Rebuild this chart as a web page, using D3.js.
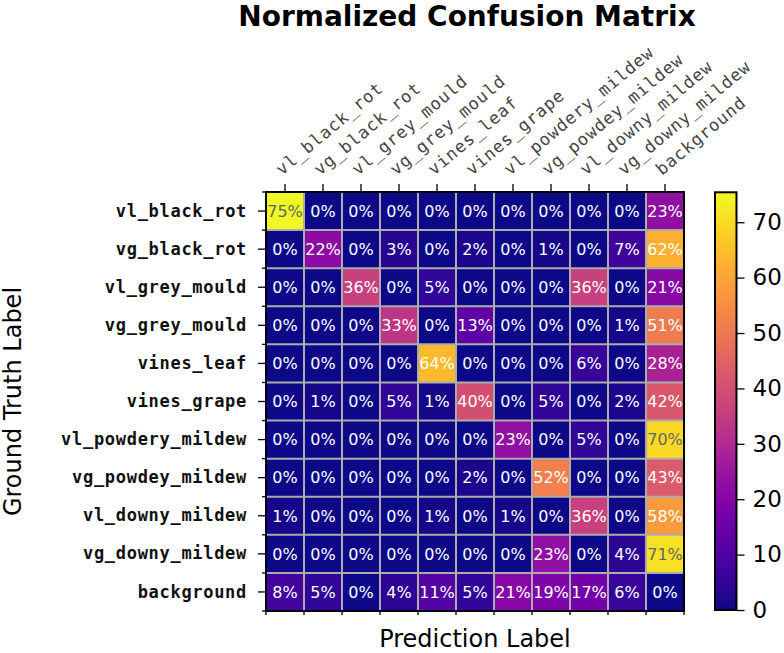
<!DOCTYPE html>
<html>
<head>
<meta charset="utf-8">
<script src="https://cdn.jsdelivr.net/npm/d3@7"></script>
<style>
  body { margin: 0; background: #fff; }
  svg { display: block; }
</style>
</head>
<body>
<svg id="chart"></svg>
<script>
// data
const classes = ["vl_black_rot", "vg_black_rot", "vl_grey_mould", "vg_grey_mould", "vines_leaf",
    "vines_grape", "vl_powdery_mildew", "vg_powdey_mildew", "vl_downy_mildew", "vg_downy_mildew", "background"];

// rows = ground truth, columns = prediction (percent)
const row_vl_black_rot = [75, 0, 0, 0, 0, 0, 0, 0, 0, 0, 23];
const row_vg_black_rot = [0, 22, 0, 3, 0, 2, 0, 1, 0, 7, 62];
const row_vl_grey_mould = [0, 0, 36, 0, 5, 0, 0, 0, 36, 0, 21];
const row_vg_grey_mould = [0, 0, 0, 33, 0, 13, 0, 0, 0, 1, 51];
const row_vines_leaf = [0, 0, 0, 0, 64, 0, 0, 0, 6, 0, 28];
const row_vines_grape = [0, 1, 0, 5, 1, 40, 0, 5, 0, 2, 42];
const row_vl_powdery_mildew = [0, 0, 0, 0, 0, 0, 23, 0, 5, 0, 70];
const row_vg_powdey_mildew = [0, 0, 0, 0, 0, 2, 0, 52, 0, 0, 43];
const row_vl_downy_mildew = [1, 0, 0, 0, 1, 0, 1, 0, 36, 0, 58];
const row_vg_downy_mildew = [0, 0, 0, 0, 0, 0, 0, 23, 0, 4, 71];
const row_background = [8, 5, 0, 4, 11, 5, 21, 19, 17, 6, 0];

const matrix = [row_vl_black_rot, row_vg_black_rot, row_vl_grey_mould, row_vg_grey_mould,
    row_vines_leaf, row_vines_grape, row_vl_powdery_mildew, row_vg_powdey_mildew,
    row_vl_downy_mildew, row_vg_downy_mildew, row_background];

const colorbarTicks = [0, 10, 20, 30, 40, 50, 60, 70];
const colorMax = 75.4;

//constants
const width = 784,
    height = 653,
    plot = { left: 266, top: 192, right: 684, bottom: 611 },
    cbar = { left: 715, right: 736.5, top: 192.3, bottom: 610 },
    monoFont = "'DejaVu Sans Mono', monospace",
    sansFont = "'DejaVu Sans', sans-serif";

const svg = d3.select("#chart").attr("width", width).attr("height", height);

const xScale = d3.scaleBand().domain(classes).range([plot.left, plot.right]);
const yScale = d3.scaleBand().domain(classes).range([plot.top, plot.bottom]);
const color = d3.scaleSequential(d3.interpolatePlasma).domain([0, colorMax]);

// cells
const cells = [];
matrix.forEach((row, i) => row.forEach((v, j) => cells.push({ truth: classes[i], pred: classes[j], v })));

svg.append("g")
    .selectAll("rect")
    .data(cells)
    .join("rect")
    .attr("x", d => xScale(d.pred))
    .attr("y", d => yScale(d.truth))
    .attr("width", xScale.bandwidth())
    .attr("height", yScale.bandwidth())
    .attr("fill", d => color(d.v));

// grid lines
const grid = svg.append("g").attr("stroke", "#acacac").attr("stroke-width", 2);
classes.slice(1).forEach(c => {
    grid.append("line").attr("x1", xScale(c)).attr("x2", xScale(c)).attr("y1", plot.top).attr("y2", plot.bottom);
    grid.append("line").attr("y1", yScale(c)).attr("y2", yScale(c)).attr("x1", plot.left).attr("x2", plot.right);
});

// annotations
svg.append("g")
    .selectAll("text")
    .data(cells)
    .join("text")
    .attr("x", d => xScale(d.pred) + xScale.bandwidth() / 2)
    .attr("y", d => yScale(d.truth) + yScale.bandwidth() / 2)
    .attr("dy", "0.36em")
    .attr("text-anchor", "middle")
    .attr("font-family", sansFont)
    .attr("font-size", 16)
    .attr("fill", d => d.v >= 68 ? "#666666" : "#ffffff")
    .text(d => d.v + "%");

// frame
svg.append("rect")
    .attr("x", plot.left).attr("y", plot.top)
    .attr("width", plot.right - plot.left).attr("height", plot.bottom - plot.top)
    .attr("fill", "none").attr("stroke", "#000").attr("stroke-width", 2);

// ticks
const tickG = svg.append("g").attr("stroke", "#000").attr("stroke-width", 1.3);
classes.forEach(c => {
    const cx = xScale(c) + xScale.bandwidth() / 2;
    const cy = yScale(c) + yScale.bandwidth() / 2;
    tickG.append("line").attr("x1", cx).attr("x2", cx).attr("y1", plot.top - 8).attr("y2", plot.top);
    tickG.append("line").attr("x1", plot.left - 8).attr("x2", plot.left).attr("y1", cy).attr("y2", cy);
});
d3.range(classes.length + 1).forEach(i => {
    const bx = plot.left + i * xScale.bandwidth();
    const by = plot.top + i * yScale.bandwidth();
    tickG.append("line").attr("x1", bx).attr("x2", bx).attr("y1", plot.bottom).attr("y2", plot.bottom + 4);
    tickG.append("line").attr("x1", plot.left - 4).attr("x2", plot.left).attr("y1", by).attr("y2", by);
});

// row labels
svg.append("g")
    .selectAll("text")
    .data(classes)
    .join("text")
    .attr("x", 247)
    .attr("y", d => yScale(d) + yScale.bandwidth() / 2)
    .attr("dy", "0.33em")
    .attr("text-anchor", "end")
    .attr("font-family", monoFont)
    .attr("font-weight", "bold")
    .attr("font-size", 17)
    .attr("letter-spacing", 0.7)
    .attr("fill", "#111")
    .text(d => d);

// column labels
svg.append("g")
    .selectAll("text")
    .data(classes)
    .join("text")
    .attr("transform", d => `translate(${xScale(d) + xScale.bandwidth() / 2 - 3},${plot.top - 16}) rotate(-40)`)
    .attr("text-anchor", "start")
    .attr("font-family", monoFont)
    .attr("font-size", 17)
    .attr("letter-spacing", 0.9)
    .attr("fill", "#444")
    .text(d => d);

// title + axis labels
svg.append("text")
    .attr("x", 467).attr("y", 26)
    .attr("text-anchor", "middle")
    .attr("font-family", sansFont)
    .attr("font-weight", "bold")
    .attr("font-size", 28)
    .text("Normalized Confusion Matrix");

svg.append("text")
    .attr("x", 475).attr("y", 647)
    .attr("text-anchor", "middle")
    .attr("font-family", sansFont)
    .attr("font-size", 24)
    .text("Prediction Label");

svg.append("text")
    .attr("transform", `translate(21,401.5) rotate(-90)`)
    .attr("text-anchor", "middle")
    .attr("font-family", sansFont)
    .attr("font-size", 24)
    .text("Ground Truth Label");

// colorbar
const cScale = d3.scaleLinear().domain([0, colorMax]).range([cbar.bottom, cbar.top]);
const grad = svg.append("defs").append("linearGradient")
    .attr("id", "plasma").attr("x1", 0).attr("x2", 0).attr("y1", 1).attr("y2", 0);
d3.range(0, 1.0001, 0.05).forEach(t => {
    grad.append("stop").attr("offset", t).attr("stop-color", color(t * colorMax));
});
svg.append("rect")
    .attr("x", cbar.left).attr("y", cbar.top)
    .attr("width", cbar.right - cbar.left).attr("height", cbar.bottom - cbar.top)
    .attr("fill", "url(#plasma)")
    .attr("stroke", "#000").attr("stroke-width", 2);

const cAxis = svg.append("g")
    .attr("transform", `translate(${cbar.right},0)`)
    .call(d3.axisRight(cScale).tickValues(colorbarTicks).tickSize(8).tickPadding(8));
cAxis.select(".domain").remove();
cAxis.selectAll("line").attr("stroke-width", 1.3);
cAxis.selectAll("text").attr("font-family", sansFont).attr("font-size", 23).attr("fill", "#000");
</script>
</body>
</html>
